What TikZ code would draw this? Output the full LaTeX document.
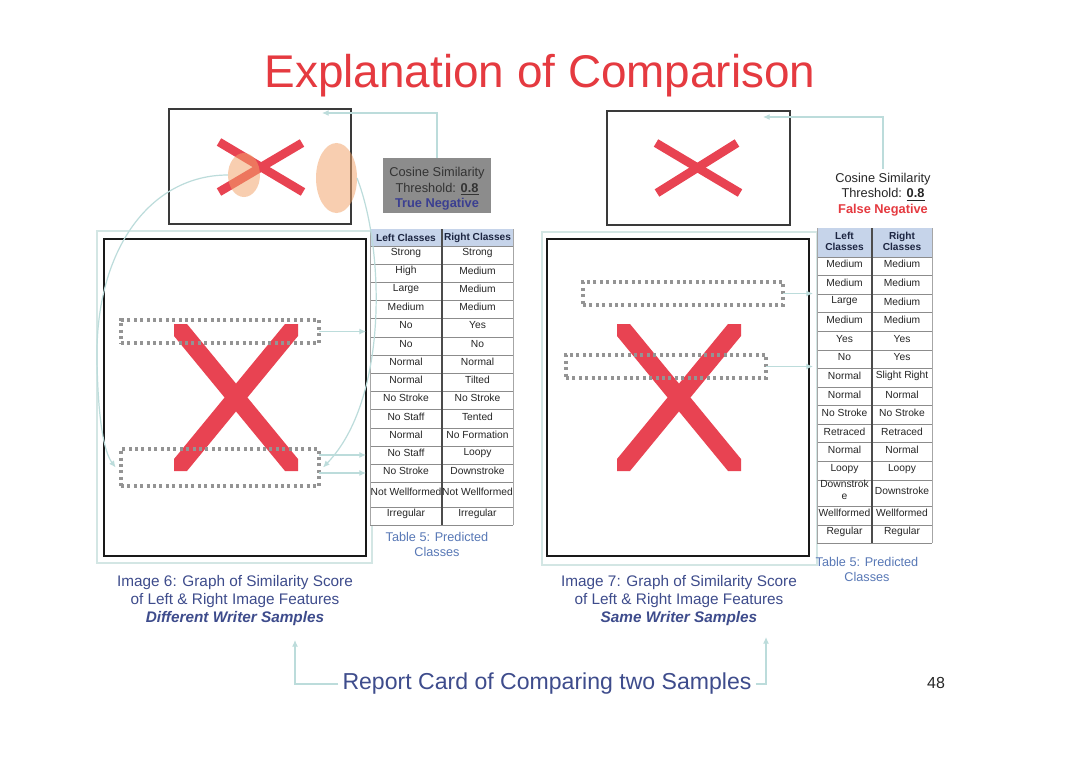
\documentclass[tikz,border=0pt]{standalone}
\usepackage{fontspec}
\setmainfont{Liberation Sans}
\usetikzlibrary{arrows.meta,shapes.geometric,calc}
\definecolor{titlered}{HTML}{E53A40}
\definecolor{xred}{HTML}{E84352}
\definecolor{peach}{RGB}{242,164,106}
\definecolor{capblue}{HTML}{3E4C8C}
\definecolor{tnblue}{HTML}{3B3F91}
\definecolor{fnred}{HTML}{E53A40}
\definecolor{conncol}{HTML}{BCDCDB}
\definecolor{framecol}{HTML}{D3E6E4}
\definecolor{hdrfill}{HTML}{C6D4EA}
\definecolor{hdrtext}{HTML}{1C2541}
\definecolor{tabcap}{HTML}{5878B6}
\definecolor{cosgray}{HTML}{8C8C8C}
\definecolor{boxgray}{HTML}{3A3A3A}
\definecolor{dotgray}{HTML}{949494}
\begin{document}
\begin{tikzpicture}[x=0.75pt,y=-0.75pt,
  conn/.style={draw=conncol, line width=0.9pt, -{Latex[length=5pt,width=4.5pt]}},
  imgbox/.style={draw=boxgray, line width=1.1pt, inner sep=0pt, outer sep=0pt},
  bigbox/.style={draw=black!90, line width=2.1pt, inner sep=0pt, outer sep=0pt},
  dotbox/.style={draw=dotgray, line width=2.3pt, dash pattern=on 2.3pt off 2.5pt, inner sep=0pt, outer sep=0pt},
  peachell/.style={ellipse, fill=peach, fill opacity=0.53, inner sep=0pt, outer sep=0pt},
  xstroke/.style={draw=xred, line width=6.5pt, line cap=butt},
  panelframe/.style={draw=framecol, line width=1.1pt},
  cell/.style={font=\fontsize{7.7}{8.6}\selectfont, text=black!85, inner sep=0pt, align=center},
  hcell/.style={font=\fontsize{7.6}{8.2}\selectfont\bfseries, text=hdrtext, inner sep=0pt, align=center},
  hline/.style={draw=black!45, line width=0.6pt},
  vline/.style={draw=black!70, line width=0.8pt},
  oline/.style={draw=black!35, line width=0.6pt},
  tcap/.style={font=\fontsize{9.5}{11.3}\selectfont, text=tabcap, align=center, inner sep=0pt},
  caption/.style={font=\fontsize{11.5}{13.5}\selectfont, text=capblue, align=center, inner sep=0pt},
  costext/.style={font=\fontsize{9.6}{11.6}\selectfont, align=center}
]
\useasboundingbox[fill=white] (0,0) rectangle (1080,763);

% title
\node[anchor=base, font=\fontsize{34.4}{40}\selectfont, text=titlered] (title) at (540,88) {Explanation of Comparison};

% ---------------- left panel ----------------
\node[imgbox, minimum width={182*0.75pt}, minimum height={115*0.75pt}] (tl) at (260,166.5) {};
\draw[xstroke] (219,142) -- (303,192);
\draw[xstroke] (302,143) -- (219,192);
\node[peachell, minimum width={32*0.75pt}, minimum height={44*0.75pt}] (e1) at (244,175) {};
\node[peachell, minimum width={41*0.75pt}, minimum height={70*0.75pt}] (e2) at (336.5,178) {};

\node[fill=cosgray, minimum width={108*0.75pt}, minimum height={55*0.75pt}, inner sep=0pt] (cos1) at (437,185.5) {};
\node[costext, text=black!80] at ([yshift=-2.5pt]cos1.center) {Cosine Similarity\\Threshold: \textbf{\underline{0.8}}\\\textcolor{tnblue}{\textbf{True Negative}}};
\coordinate (t1) at (322,113);
\draw[conn] (cos1.north) |- (t1);

\draw[panelframe] (97,231) rectangle (372,563);
\node[bigbox, minimum width={262*0.75pt}, minimum height={317*0.75pt}] (bigL) at (235,397.5) {};
\fill[xred] (174,324) -- (187,324) -- (298,459) -- (298,471) -- (285,471) -- (174,336) -- cycle;
\fill[xred] (298,324) -- (285,324) -- (174,459) -- (174,471) -- (187,471) -- (298,336) -- cycle;
\node[dotbox, minimum width={198*0.75pt}, minimum height={23*0.75pt}] (d1) at (220,331.5) {};
\node[dotbox, minimum width={198*0.75pt}, minimum height={37*0.75pt}] (d2) at (220,467.5) {};

% left table
\fill[hdrfill] (370,229) rectangle (513,246);
\fill[white] (370,246) rectangle (513,525);
\foreach \k in {0,...,13} \draw[hline] (370,{246+18.2*\k}) -- (513,{246+18.2*\k});
\draw[hline] (370,507) -- (513,507);
\draw[hline] (370,525) -- (513,525);
\draw[vline] (442,229) -- (442,525);
\draw[oline] (370,229) -- (370,525);
\draw[oline] (513,229) -- (513,525);
\node[hcell] (lh1) at (406,237.5) {Left Classes};
\node[hcell] (lh2) at (477.5,237.5) {Right Classes};
\foreach \l/\r [count=\i] in {Strong/Strong,High/Medium,Large/Medium,Medium/Medium,No/Yes,No/No,Normal/Normal,Normal/Tilted,No Stroke/No Stroke,No Staff/Tented,Normal/No Formation,No Staff/Loopy,No Stroke/Downstroke}{
  \node[cell] (la\i) at (406,{246+18.2*\i-9.1-2.5}) {\l};
  \node[cell] (lb\i) at (477.5,{246+18.2*\i-9.1-2.5}) {\r};
}
\node[cell] (la14) at (406,492) {Not Wellformed};
\node[cell] (lb14) at (477.5,492) {Not Wellformed};
\node[cell] (la15) at (406,513.5) {Irregular};
\node[cell] (lb15) at (477.5,513.5) {Irregular};
\node[tcap] (tc1) at (437,544) {Table 5: Predicted\\Classes};

% left connectors
\draw[conn] (d1.east) -- (bigL.east |- d1.east);
\path ([yshift=9.4pt]d2.east) coordinate (d2a);
\path ([yshift=-4.1pt]d2.east) coordinate (d2b);
\draw[conn] (d2a) -- (bigL.east |- d2a);
\draw[conn] (d2b) -- (bigL.east |- d2b);
\draw[conn] (e2.east) .. controls (385,250) and (388,400) .. ([xshift=3pt]d2.east);
\draw[conn] (e1.west) .. controls (150,175) and (95,250) .. (97,360) .. controls (98,420) and (104,452) .. ([xshift=-4pt]d2.west);

\node[caption] (cap6) at (235,601) {Image 6: Graph of Similarity Score\\of Left \& Right Image Features\\\textbf{\textit{Different Writer Samples}}};

% ---------------- right panel ----------------
\node[imgbox, minimum width={183*0.75pt}, minimum height={114*0.75pt}] (tr) at (698.5,168) {};
\draw[xstroke] (656,143) -- (740,193);
\draw[xstroke] (737,143) -- (657,193);
\node[costext, text=black!85, inner sep=3pt] (cos2) at (883,194.5) {Cosine Similarity\\Threshold: \textbf{\underline{0.8}}\\\textcolor{fnred}{\textbf{False Negative}}};
\coordinate (t2) at (763,117);
\draw[conn] (cos2.north) |- (t2);

\draw[panelframe] (542,232) rectangle (817,565);
\node[bigbox, minimum width={262*0.75pt}, minimum height={317*0.75pt}] (bigR) at (678,397.5) {};
\fill[xred] (617,324) -- (630,324) -- (741,459) -- (741,471) -- (728,471) -- (617,336) -- cycle;
\fill[xred] (741,324) -- (728,324) -- (617,459) -- (617,471) -- (630,471) -- (741,336) -- cycle;
\node[dotbox, minimum width={200*0.75pt}, minimum height={23*0.75pt}] (r1) at (683,293.5) {};
\node[dotbox, minimum width={200*0.75pt}, minimum height={23*0.75pt}] (r2) at (666,366.5) {};

% right table
\fill[hdrfill] (817,228) rectangle (932,257);
\fill[white] (817,257) rectangle (932,543);
\foreach \k in {0,...,12} \draw[hline] (817,{257+18.58*\k}) -- (932,{257+18.58*\k});
\draw[hline] (817,506.7) -- (932,506.7);
\draw[hline] (817,525) -- (932,525);
\draw[hline] (817,543) -- (932,543);
\draw[vline] (872,228) -- (872,543);
\draw[oline] (817,228) -- (817,543);
\draw[oline] (932,228) -- (932,543);
\node[hcell] (rh1) at (844.5,241) {Left\\Classes};
\node[hcell] (rh2) at (902,241) {Right\\Classes};
\foreach \l/\r [count=\i] in {Medium/Medium,Medium/Medium,Large/Medium,Medium/Medium,Yes/Yes,No/Yes,Normal/Slight Right,Normal/Normal,No Stroke/No Stroke,Retraced/Retraced,Normal/Normal,Loopy/Loopy}{
  \node[cell] (ra\i) at (844.5,{257+18.58*\i-9.29-2}) {\l};
  \node[cell] (rb\i) at (902,{257+18.58*\i-9.29-2}) {\r};
}
\node[cell] (ra13) at (844.5,490) {Downstrok\\e};
\node[cell] (rb13) at (902,491) {Downstroke};
\node[cell] (ra14) at (844.5,513) {Wellformed};
\node[cell] (rb14) at (902,513) {Wellformed};
\node[cell] (ra15) at (844.5,531.5) {Regular};
\node[cell] (rb15) at (902,531.5) {Regular};
\node[tcap] (tc2) at (867,569) {Table 5: Predicted\\Classes};

% right connectors
\coordinate (bR) at ([xshift=3pt]bigR.east);
\draw[conn] (r1.east) -- (bR |- r1.east);
\draw[conn] (r2.east) -- (bR |- r2.east);

\node[caption] (cap7) at (679,601) {Image 7: Graph of Similarity Score\\of Left \& Right Image Features\\\textbf{\textit{Same Writer Samples}}};

% bottom
\node[font=\fontsize{17.3}{20}\selectfont, text=capblue, inner sep=3pt] (rep) at (547,684) {Report Card of Comparing two Samples};
\coordinate (a6) at (295,640);
\coordinate (a7) at (766,637);
\draw[conn] (rep.west) -| (a6);
\draw[conn] (rep.east) -| (a7);
\node[font=\fontsize{12}{14}\selectfont, text=black!85] (pg) at (936,683) {48};
\end{tikzpicture}
\end{document}
